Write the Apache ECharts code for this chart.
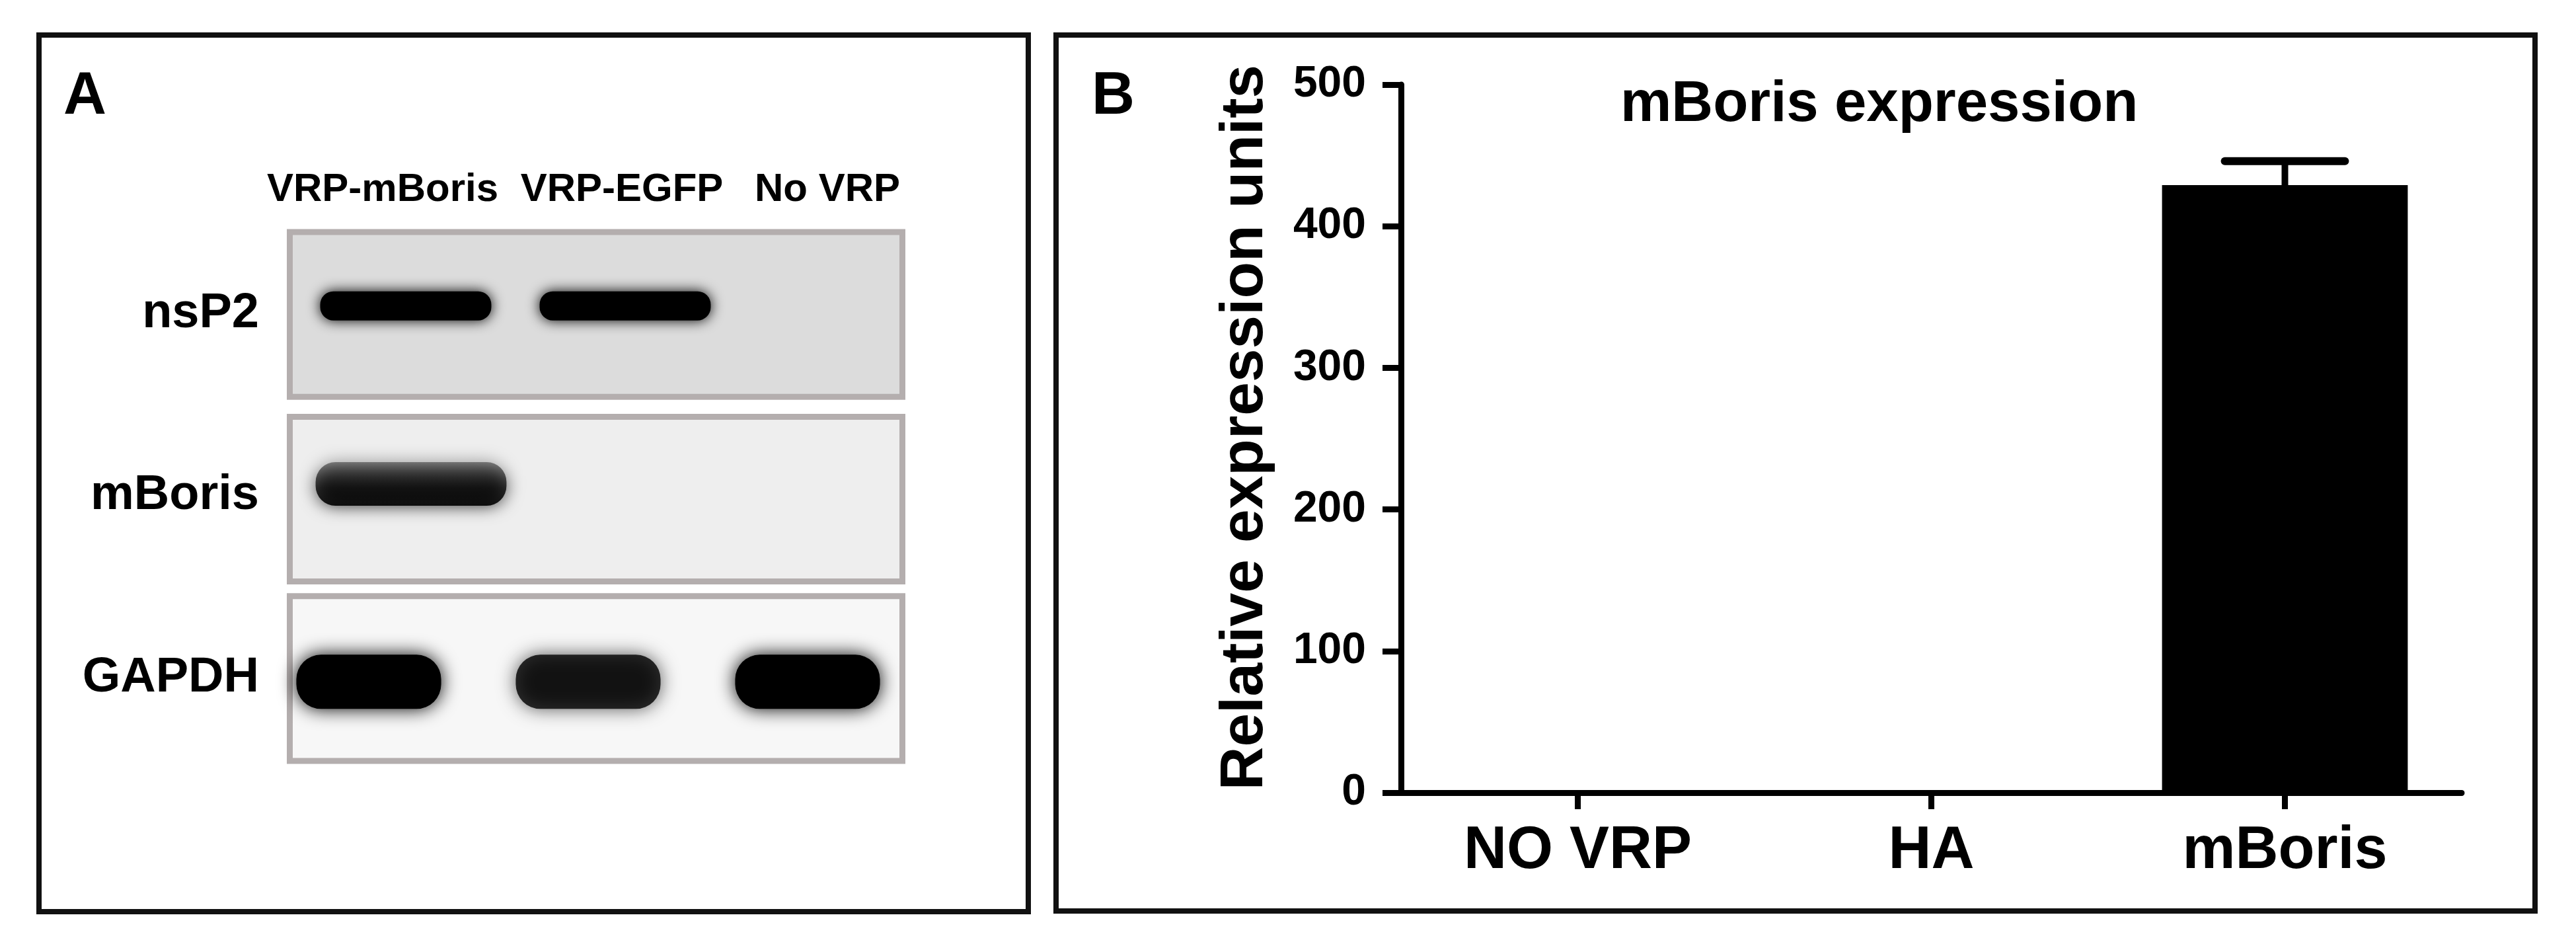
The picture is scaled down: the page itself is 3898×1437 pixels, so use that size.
<!DOCTYPE html>
<html>
<head>
<meta charset="utf-8">
<script src="https://cdn.jsdelivr.net/npm/echarts@6/dist/echarts.min.js"></script>
<style>
html,body{margin:0;padding:0;background:#fff;}
#c{width:3898px;height:1437px;}
</style>
</head>
<body>
<div id="c"></div>
<script>
// ---- Panel A: western blot (lanes x proteins, relative band signal) ----
const lanes = ['VRP-mBoris', 'VRP-EGFP', 'No VRP'];
const proteins = ['nsP2', 'mBoris', 'GAPDH'];
const nsP2Signal = [1, 1, 0];
const mBorisSignal = [0.9, 0, 0];
const gapdhSignal = [1, 0.8, 1];

// ---- Panel B: bar chart ----
const groups = ['NO VRP', 'HA', 'mBoris'];
const expression = [0, 0, 429];
const expressionSEM = [0, 0, 17];
const yTicks = { min: 0, max: 500, interval: 100 };

const FONT = '"Liberation Sans", Arial, Helvetica, sans-serif';
const signals = { nsP2: nsP2Signal, mBoris: mBorisSignal, GAPDH: gapdhSignal };
const bandData = [];
proteins.forEach(function (p, pi) {
  lanes.forEach(function (l, li) {
    if (signals[p][li] > 0) bandData.push([li, pi, signals[p][li]]);
  });
});

// styling of the blot strips and bands (appearance only)
const blotFill = { nsP2: '#dcdcdc', mBoris: '#eeeeee', GAPDH: '#f7f7f7' };
const blotShift = { nsP2: 1, mBoris: 5, GAPDH: 1 };
const bandLook = {
  nsP2:   { w: 0.78, h: 44, dx: 26,  dy: -12, grad: false, blur: 20 },
  mBoris: { w: 0.87, h: 66, dx: 34,  dy: -18, grad: true,  blur: 26 },
  GAPDH:  { w: 0.66, h: 82, dx: -30, dy: 6,   grad: false, blur: 28 }
};
const laneLabelPad = [[0, 18, 0, 0], [0, 0, 0, 42], [0, 0, 0, 0]];

const chart = echarts.init(document.getElementById('c'), null, { renderer: 'canvas' });

const txt = function (size) {
  return { fontSize: size, fontWeight: 'bold', color: '#000', fontFamily: FONT };
};

const laneRich = {};
laneLabelPad.forEach(function (pad, i) { laneRich['l' + i] = Object.assign({ padding: pad }, txt(60)); });

const option = {
  backgroundColor: '#ffffff',
  animation: false,
  title: {
    text: 'mBoris expression',
    left: 2452,
    top: 116,
    padding: 0,
    textStyle: txt(87)
  },
  grid: [
    { left: 422, width: 996, top: 337, height: 826 },
    { left: 2120, right: 173, top: 128, bottom: 238 }
  ],
  xAxis: [
    {
      gridIndex: 0, type: 'category', data: lanes, position: 'top',
      axisLine: { show: false }, axisTick: { show: false },
      axisLabel: Object.assign({
        margin: 20, interval: 0,
        formatter: function (v, i) { return '{l' + i + '|' + v + '}'; },
        rich: laneRich
      }, txt(60))
    },
    {
      gridIndex: 1, type: 'category', data: groups,
      axisLine: { show: true, lineStyle: { color: '#000', width: 9 } },
      axisTick: { show: true, alignWithLabel: true, length: 25, lineStyle: { color: '#000', width: 9 } },
      axisLabel: Object.assign({ margin: 44, interval: 0 }, txt(90))
    }
  ],
  yAxis: [
    {
      gridIndex: 0, type: 'category', data: proteins, inverse: true,
      axisLine: { show: false }, axisTick: { show: false },
      axisLabel: Object.assign({ margin: 30, interval: 0 }, txt(74))
    },
    {
      gridIndex: 1, type: 'value', min: yTicks.min, max: yTicks.max, interval: yTicks.interval,
      name: 'Relative expression units', nameLocation: 'middle', nameGap: 190,
      nameTextStyle: Object.assign({ padding: [0, 0, 0, 34] }, txt(91)),
      axisLine: { show: true, lineStyle: { color: '#000', width: 9 } },
      axisTick: { show: true, length: 28, lineStyle: { color: '#000', width: 9 } },
      splitLine: { show: false },
      axisLabel: Object.assign({ margin: 53 }, txt(66))
    }
  ],
  graphic: [
    { type: 'rect', silent: true, shape: { x: 59, y: 53, width: 1497, height: 1326 },
      style: { fill: 'none', stroke: '#111', lineWidth: 8 } },
    { type: 'rect', silent: true, shape: { x: 1598, y: 53, width: 2238, height: 1325 },
      style: { fill: 'none', stroke: '#111', lineWidth: 8 } },
    { type: 'text', silent: true, x: 96, y: 102,
      style: { text: 'A', fill: '#000', font: 'bold 90px ' + FONT, textVerticalAlign: 'top' } },
    { type: 'text', silent: true, x: 1652, y: 102,
      style: { text: 'B', fill: '#000', font: 'bold 90px ' + FONT, textVerticalAlign: 'top' } }
  ],
  series: [
    {
      type: 'custom', name: 'blots', xAxisIndex: 0, yAxisIndex: 0, silent: true,
      data: proteins.map(function (p, i) { return [0, i]; }),
      renderItem: function (params, api) {
        const pi = api.value(1);
        const p = proteins[pi];
        const c = api.coord([0, pi]);
        const cs = params.coordSys;
        const bh = api.size([0, 1])[1];
        const h = bh * 0.905;
        return {
          type: 'rect',
          shape: { x: cs.x + 16.5, y: c[1] - h / 2 + blotShift[p], width: 927, height: h },
          style: { fill: blotFill[p], stroke: '#b4aeae', lineWidth: 9 }
        };
      }
    },
    {
      type: 'custom', name: 'bands', xAxisIndex: 0, yAxisIndex: 0, silent: true,
      data: bandData,
      renderItem: function (params, api) {
        const li = api.value(0), pi = api.value(1), a = api.value(2);
        const look = bandLook[proteins[pi]];
        const c = api.coord([li, pi]);
        const laneW = api.size([1, 1])[0];
        const w = laneW * look.w;
        const h = look.h;
        const fill = look.grad
          ? new echarts.graphic.LinearGradient(0, 0, 0, 1, [
              { offset: 0, color: 'rgba(0,0,0,' + (a * 0.45) + ')' },
              { offset: 0.6, color: 'rgba(0,0,0,' + (a * 0.85) + ')' },
              { offset: 1, color: 'rgba(0,0,0,' + a + ')' }
            ])
          : 'rgba(0,0,0,' + a + ')';
        return {
          type: 'rect',
          shape: { x: c[0] + look.dx - w / 2, y: c[1] + look.dy - h / 2, width: w, height: h, r: h / 2.2 },
          style: { fill: fill, shadowBlur: look.blur, shadowColor: 'rgba(0,0,0,' + a + ')' }
        };
      }
    },
    {
      type: 'bar', name: 'expression', xAxisIndex: 1, yAxisIndex: 1, silent: true,
      data: expression, barWidth: '69.5%',
      itemStyle: { color: '#000' }
    },
    {
      type: 'custom', name: 'SEM', xAxisIndex: 1, yAxisIndex: 1, silent: true,
      data: groups.map(function (g, i) { return [i, expression[i], expressionSEM[i]]; }),
      renderItem: function (params, api) {
        const i = api.value(0), v = api.value(1), e = api.value(2);
        if (!e) return null;
        const base = api.coord([i, v]);
        const top = api.coord([i, v + e]);
        const hw = api.size([1, 0])[0] * 0.17;
        return {
          type: 'group',
          children: [
            { type: 'line', shape: { x1: base[0], y1: base[1], x2: top[0], y2: top[1] },
              style: { stroke: '#000', lineWidth: 10 } },
            { type: 'line', shape: { x1: top[0] - hw, y1: top[1], x2: top[0] + hw, y2: top[1] },
              style: { stroke: '#000', lineWidth: 12, lineCap: 'round' } }
          ]
        };
      }
    }
  ]
};

chart.setOption(option);
</script>
</body>
</html>
